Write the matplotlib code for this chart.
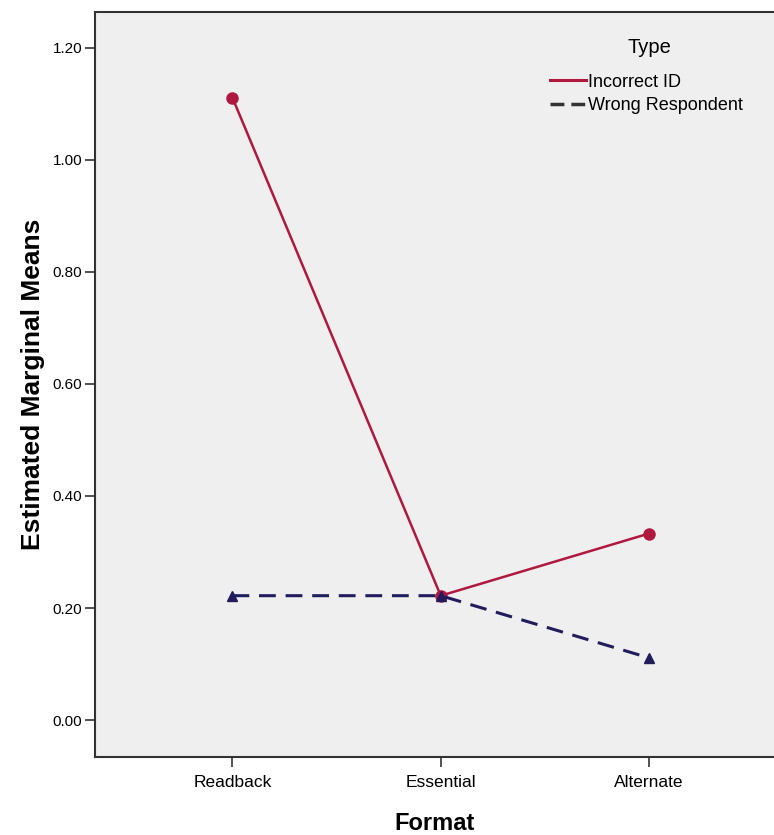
import matplotlib.pyplot as plt
from matplotlib.lines import Line2D

formats = ['Readback', 'Essential', 'Alternate']
incorrect_id = [1.111, 0.222, 0.333]
wrong_resp = [0.222, 0.222, 0.111]
yticks = [0.0, 0.2, 0.4, 0.6, 0.8, 1.0, 1.2]

red = '#b01840'
navy = '#221c5c'
dash = (0, (5.5, 3.2))

plt.rcParams['font.family'] = ['Liberation Sans', 'DejaVu Sans']

fig = plt.figure(figsize=(7.74, 8.35), dpi=100)
ax = fig.add_axes([0.1227, 0.0934, 0.8773, 0.8922])
ax.set_facecolor('#efefef')

x = range(len(formats))
ax.plot(x, incorrect_id, color=red, lw=1.8, marker='o', ms=8)
ax.plot(x, wrong_resp, color=navy, lw=2.2, ls=dash, marker='^', ms=7)

ax.set_xlim(-0.66, 2.6)
ax.set_ylim(-0.066, 1.264)
ax.set_xticks(list(x))
ax.set_xticklabels(formats, fontsize=12.5)
ax.set_yticks(yticks)
ax.set_yticklabels(['%.2f' % v for v in yticks], fontsize=11)
ax.tick_params(length=7, width=1.2, color='#333333')
ax.tick_params(axis='y', pad=2)
ax.tick_params(axis='x', pad=6)

ax.spines['right'].set_visible(False)
for s in ['left', 'bottom', 'top']:
    ax.spines[s].set_linewidth(1.5)
    ax.spines[s].set_color('#333333')

ax.set_xlabel('Format', fontsize=17, fontweight='bold', labelpad=16)
ax.set_ylabel('Estimated Marginal Means', fontsize=19, fontweight='bold',
              labelpad=6)

# legend title drawn on its own, entries without markers like SPSS
ax.text(0.817, 0.952, 'Type', transform=ax.transAxes, ha='center',
        va='center', fontsize=14.5)
handles = [Line2D([], [], color=red, lw=2.2),
           Line2D([], [], color='#333333', lw=2.5, ls=(0, (4, 2)))]
ax.legend(handles, ['Incorrect ID', 'Wrong Respondent'],
          loc='upper left', bbox_to_anchor=(0.66, 0.927),
          frameon=False, fontsize=13, handlelength=2.0,
          handletextpad=0.1, labelspacing=0.35, borderaxespad=0)

plt.savefig('out.png', dpi=100)
plt.close()
